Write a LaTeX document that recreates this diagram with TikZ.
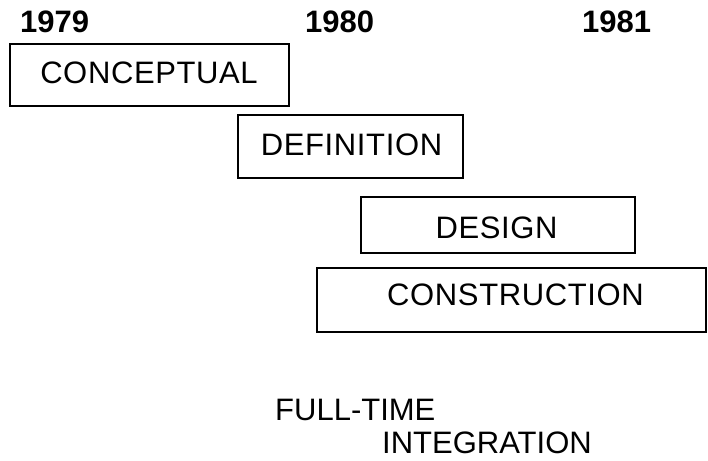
\documentclass[tikz,border=0pt]{standalone}
\usepackage{fontspec}
\setmainfont{Liberation Sans}
\newfontfamily\spacedsans[LetterSpace=2]{Liberation Sans}
\begin{document}
\begin{tikzpicture}[x=1pt,y=-1pt,
  phasebox/.style={draw=black, line width=1.2pt, inner sep=0pt, minimum width=#1},
  lbl/.style={anchor=base, inner sep=0pt, font=\fontsize{31}{37}\selectfont\spacedsans},
  plain/.style={anchor=base west, inner sep=0pt, font=\fontsize{31}{37}\selectfont},
  yr/.style={anchor=base west, inner sep=0pt, font=\fontsize{31}{37}\selectfont\bfseries}]
\useasboundingbox (0,0) rectangle (708,460);
% years
\node[yr] (y79) at (20,33) {1979};
\node[yr] (y80) at (305,33) {1980};
\node[yr] (y81) at (582,33) {1981};
% boxes
\node[phasebox=279pt, minimum height=62pt] (bconc) at (149.5,75) {};
\node[phasebox=225pt, minimum height=63pt] (bdef) at (350.5,146.5) {};
\node[phasebox=274pt, minimum height=56pt] (bdes) at (498,225) {};
\node[phasebox=389pt, minimum height=64pt] (bcons) at (511.5,300) {};
% labels
\node[lbl] (tconc) at (149,83) {CONCEPTUAL};
\node[lbl] (tdef) at (351.5,155) {DEFINITION};
\node[lbl] (tdes) at (496.5,238) {DESIGN};
\node[lbl] (tcons) at (515.5,305) {CONSTRUCTION};
% bottom text
\node[plain] (tfull) at (275,420) {FULL-TIME};
\node[plain] (tint) at (382,453) {INTEGRATION};
\end{tikzpicture}
\end{document}
